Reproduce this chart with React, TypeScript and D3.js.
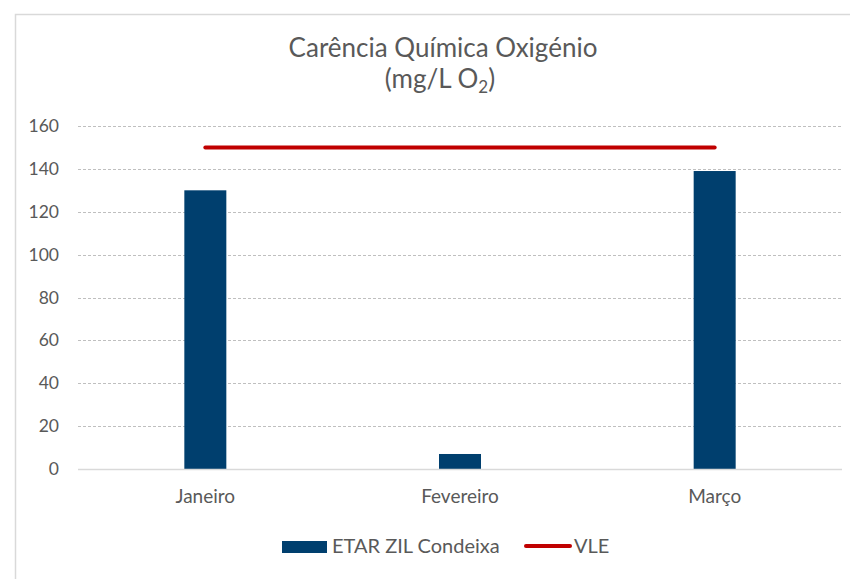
import React, { useEffect, useRef } from "react";
import * as d3 from "d3";

const months = ["Janeiro", "Fevereiro", "Março"];
const etarValues = [130, 7, 139];
const vleValues = [150, 150, 150];
const yTicks = [0, 20, 40, 60, 80, 100, 120, 140, 160];
const seriesNames = ["ETAR ZIL Condeixa", "VLE"];

const FONT = "Lato, 'Open Sans', sans-serif";
const TEXT = "#595959";
const BAR = "#003F6E";
const RED = "#C00000";

export default function App() {
  const ref = useRef<SVGSVGElement>(null);

  useEffect(() => {
    const svg = d3.select(ref.current);
    svg.selectAll("*").remove();

    svg.append("rect").attr("width", 850).attr("height", 579).attr("fill", "#fff");
    svg.append("rect")
      .attr("x", 15.5).attr("y", 14.5).attr("width", 900).attr("height", 700)
      .attr("fill", "none").attr("stroke", "#d9d9d9").attr("stroke-width", 1.5);

    const x = d3.scaleBand().domain(months).range([78, 842]).paddingInner(0).paddingOuter(0);
    const y = d3.scaleLinear().domain([0, 160]).range([469, 126]);
    const barW = 42;

    // title
    const title = svg.append("text").attr("text-anchor", "middle").attr("fill", TEXT)
      .attr("font-family", FONT).attr("font-size", 26);
    title.append("tspan").attr("x", 443).attr("y", 57).text("Carência Química Oxigénio");
    const t2 = svg.append("text").attr("text-anchor", "middle").attr("fill", TEXT)
      .attr("font-family", FONT).attr("font-size", 26).attr("x", 440).attr("y", 88);
    t2.append("tspan").text("(mg/L O");
    t2.append("tspan").attr("font-size", 17).attr("dy", 5).text("2");
    t2.append("tspan").attr("dy", -5).text(")");

    // gridlines
    svg.append("g").selectAll("line").data(yTicks.filter(d => d > 0)).join("line")
      .attr("x1", 78).attr("x2", 842)
      .attr("y1", d => Math.round(y(d)) + 0.5).attr("y2", d => Math.round(y(d)) + 0.5)
      .attr("stroke", "#bfbfbf").attr("stroke-dasharray", "3,2").attr("stroke-width", 1);

    // y labels
    svg.append("g").selectAll("text").data(yTicks).join("text")
      .attr("x", 59).attr("y", d => y(d) + 6)
      .attr("text-anchor", "end").attr("fill", TEXT)
      .attr("font-family", FONT).attr("font-size", 17.5)
      .text(d => d);

    // bars
    svg.append("g").selectAll("rect").data(months).join("rect")
      .attr("x", d => x(d)! + x.bandwidth() / 2 - barW / 2)
      .attr("y", (d, i) => y(etarValues[i]))
      .attr("width", barW)
      .attr("height", (d, i) => y(0) - y(etarValues[i]))
      .attr("fill", BAR);

    // axis baseline
    svg.append("line").attr("x1", 78).attr("x2", 842)
      .attr("y1", y(0) + 0.5).attr("y2", y(0) + 0.5)
      .attr("stroke", "#d9d9d9").attr("stroke-width", 1.5);

    // x labels
    svg.append("g").selectAll("text").data(months).join("text")
      .attr("x", d => x(d)! + x.bandwidth() / 2).attr("y", 503)
      .attr("text-anchor", "middle").attr("fill", TEXT)
      .attr("font-family", FONT).attr("font-size", 19)
      .text(d => d);

    // VLE line
    const line = d3.line<number>()
      .x((d, i) => x(months[i])! + x.bandwidth() / 2)
      .y(d => y(d));
    svg.append("path").datum(vleValues).attr("d", line)
      .attr("fill", "none").attr("stroke", RED).attr("stroke-width", 4)
      .attr("stroke-linecap", "round");

    // legend
    const lg = svg.append("g");
    lg.append("rect").attr("x", 282).attr("y", 541).attr("width", 45).attr("height", 12).attr("fill", BAR);
    lg.append("text").attr("x", 332).attr("y", 553).attr("fill", TEXT)
      .attr("font-family", FONT).attr("font-size", 20).text(seriesNames[0]);
    lg.append("line").attr("x1", 526).attr("x2", 570).attr("y1", 546).attr("y2", 546)
      .attr("stroke", RED).attr("stroke-width", 4).attr("stroke-linecap", "round");
    lg.append("text").attr("x", 574).attr("y", 553).attr("fill", TEXT)
      .attr("font-family", FONT).attr("font-size", 20).text(seriesNames[1]);
  }, []);

  return (
    <svg ref={ref} width={850} height={579}
      style={{ position: "absolute", left: 0, top: 0, display: "block" }} />
  );
}
